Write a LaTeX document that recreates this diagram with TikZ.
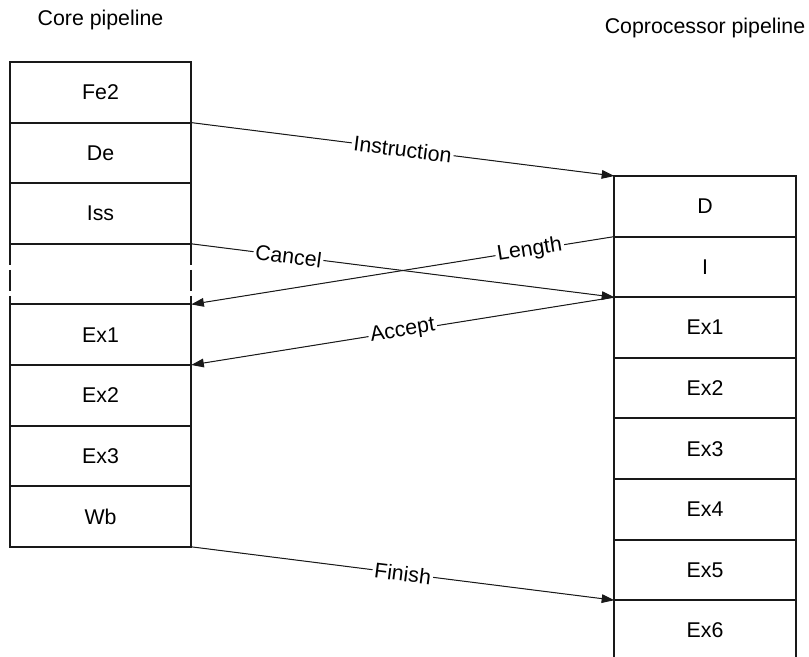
\documentclass[tikz,border=0pt]{standalone}
\usepackage{fontspec}
\setmainfont{Liberation Sans}
\usetikzlibrary{positioning,arrows.meta}

\begin{document}
\begin{tikzpicture}[
    x=0.75pt, y=-0.75pt,
    node distance=0pt,
    stage/.style={rectangle, draw=black!90, line width=1.5pt, minimum width=136pt, minimum height=45.45pt, outer sep=0pt, inner sep=0pt, font=\fontsize{16}{19}\selectfont},
    gapstage/.style={stage, draw=none},
    title/.style={font=\fontsize{16}{19}\selectfont},
    signal/.style={-{Triangle[length=9.5pt, width=6.5pt]}, line width=0.75pt, draw=black!90, fill=black!90},
    tag/.style={sloped, fill=white, inner sep=1.5pt, font=\fontsize{16}{19}\selectfont}
]
\useasboundingbox (0,0) rectangle (809,656);

\node[title] (coretitle) at (100.5,20) {Core pipeline};
\node[title] (coptitle) at (705,28) {Coprocessor pipeline};

% core pipeline
\node[stage, anchor=north] (fe2) at (100.5,62) {Fe2};
\node[stage, below=of fe2] (de) {De};
\node[stage, below=of de] (iss) {Iss};
\node[gapstage, below=of iss] (gap) {};
\node[stage, below=of gap] (ex1) {Ex1};
\node[stage, below=of ex1] (ex2) {Ex2};
\node[stage, below=of ex2] (ex3) {Ex3};
\node[stage, below=of ex3] (wb) {Wb};
\draw[line width=1.5pt, draw=black!90, dash pattern=on 15.75pt off 3.75pt] (gap.north west) -- (gap.south west);
\draw[line width=1.5pt, draw=black!90, dash pattern=on 15.75pt off 3.75pt] (gap.north east) -- (gap.south east);

% coprocessor pipeline
\node[stage, anchor=north] (cd) at (705,176) {D};
\node[stage, below=of cd] (ci) {I};
\node[stage, below=of ci] (cex1) {Ex1};
\node[stage, below=of cex1] (cex2) {Ex2};
\node[stage, below=of cex2] (cex3) {Ex3};
\node[stage, below=of cex3] (cex4) {Ex4};
\node[stage, below=of cex4] (cex5) {Ex5};
\node[stage, below=of cex5] (cex6) {Ex6};

% signals
\draw[signal] (de.north east) -- node[tag] {Instruction} (cd.north west);
\draw[signal] (iss.south east) -- node[tag, pos=0.23] {Cancel} (ci.south west);
\draw[signal] (cd.south west) -- node[tag, pos=0.2] {Length} (gap.south east);
\draw[signal] (ci.south west) -- node[tag] {Accept} (ex1.south east);
\draw[signal] (wb.south east) -- node[tag] {Finish} (cex5.south west);
\end{tikzpicture}
\end{document}
